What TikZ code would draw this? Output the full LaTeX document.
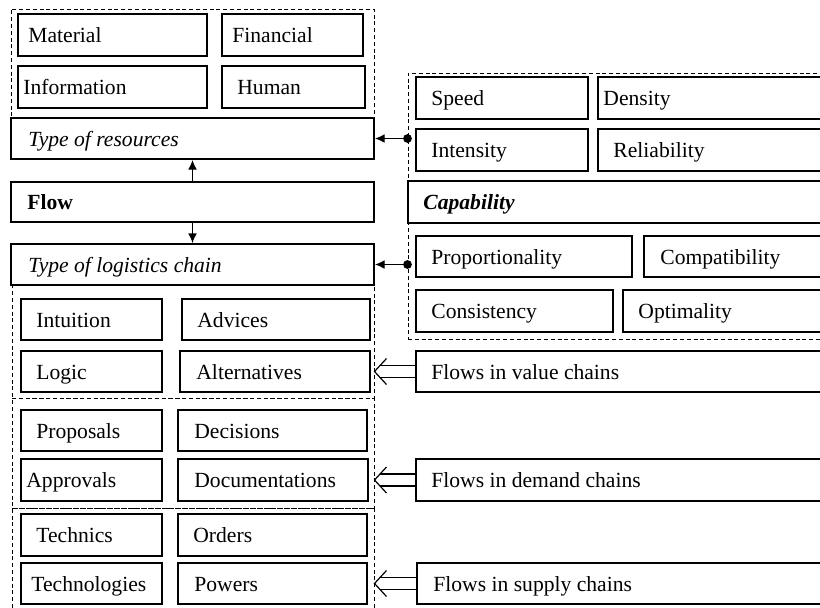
\documentclass[tikz,border=0pt]{standalone}
\usepackage{fontspec}
\setmainfont{Liberation Serif}
\usetikzlibrary{fit,calc,arrows.meta}

% a framed box from (x1,y1) to (x2,y2) with its label starting at x = tx
\newcommand\cell[7]{%
  \node[box, fit={(#2,#3) (#4,#5)}] (#1) {};
  \node[lbl] (#1-t) at (#6,{(#3+#5)/2+7.5}) {#7};}

% open double-line arrow from a source box to the right edge of a dashed group
\newcommand\harr[2]{%
  \coordinate (#1-tip) at (#2.east |- #1.west);
  \draw[harrow] ($(#1.west)+(0,-6)$) -- ($(#1-tip)+(5.5,-6)$);
  \draw[harrow] ($(#1.west)+(0,6)$) -- ($(#1-tip)+(5.5,6)$);
  \draw[harrow] ($(#1-tip)+(12,-13)$) -- (#1-tip) -- ($(#1-tip)+(12,13)$);}

\begin{document}
\begin{tikzpicture}[x=0.5pt,y=-0.5pt,
  box/.style={draw, line width=1pt, inner sep=0pt, fill=white},
  grp/.style={draw, line width=0.5pt, dash pattern=on 2pt off 1.4pt, inner sep=0pt},
  lbl/.style={anchor=base west, inner sep=0pt, font=\fontsize{10.8}{13}\selectfont},
  link/.style={line width=0.6pt, -{Latex[length=4.8pt,width=4.4pt]}},
  harrow/.style={line width=0.6pt, line join=miter},
]
\useasboundingbox (0,0) rectangle (820,607);
\clip (0,0) rectangle (820,607);

% dashed groups
\node[grp, fit={(11,9) (374,118)}] (grpT) {};
\node[grp, fit={(408,73) (840,339)}] (capgrp) {};
\node[grp, fit={(12,285) (374,398)}] (grpV) {};
\node[grp, fit={(12,398) (374,508)}] (grpD) {};
\node[grp, fit={(12,508) (374,640)}] (grpS) {};

% resources
\cell{mat}{18}{14}{207}{56}{28}{Material}
\cell{fin}{222}{14}{363}{56}{232}{Financial}
\cell{inf}{18}{66}{207}{108}{23}{Information}
\cell{hum}{222}{66}{365}{108}{237}{Human}
\cell{tres}{11}{118}{374}{159}{28}{\textit{Type of resources}}
\cell{flow}{11}{182}{374}{222}{27}{\textbf{Flow}}
\cell{tlog}{11}{244}{374}{285}{28}{\textit{Type of logistics chain}}

% capability
\cell{spd}{416}{77}{588}{119}{431}{Speed}
\cell{den}{598}{77}{840}{119}{603}{Density}
\cell{ints}{416}{129}{588}{171}{431}{Intensity}
\cell{rel}{598}{129}{840}{171}{613}{Reliability}
\cell{cap}{408}{181}{840}{223}{423}{\textbf{\textit{Capability}}}
\cell{prop}{416}{236}{632}{277}{431}{Proportionality}
\cell{compat}{644}{236}{840}{277}{660}{Compatibility}
\cell{cons}{416}{290}{613}{332}{431}{Consistency}
\cell{opt}{623}{290}{840}{332}{638}{Optimality}

% logistics chain contents
\cell{intu}{21}{299}{162}{340}{36}{Intuition}
\cell{adv}{182}{299}{370}{340}{197}{Advices}
\cell{logic}{21}{351}{162}{392}{36}{Logic}
\cell{alt}{180}{351}{370}{392}{196}{Alternatives}
\cell{prp}{21}{410}{162}{451}{36}{Proposals}
\cell{dec}{178}{410}{367}{451}{194}{Decisions}
\cell{appr}{21}{459}{162}{501}{26}{Approvals}
\cell{docs}{178}{459}{368}{501}{194}{Documentations}
\cell{tech}{21}{514}{162}{556}{36}{Technics}
\cell{ord}{178}{514}{367}{556}{193}{Orders}
\cell{techn}{21}{563}{162}{604}{31}{Technologies}
\cell{pow}{178}{563}{367}{604}{194}{Powers}

% chain flows
\cell{fv}{416}{351}{840}{392}{431}{Flows in value chains}
\cell{fd}{416}{459}{840}{501}{431}{Flows in demand chains}
\cell{fs}{417}{563}{840}{604}{433}{Flows in supply chains}

% connectors
\draw[link] (flow.north) -- (tres.south);
\draw[link] (flow.south) -- (tlog.north);
\coordinate (d1) at (capgrp.west |- tres.east);
\coordinate (d2) at (capgrp.west |- tlog.east);
\draw[link] (d1) -- (tres.east);
\draw[link] (d2) -- (tlog.east);
\fill (d1) circle (2.2pt);
\fill (d2) circle (2.2pt);
\harr{fv}{grpV}
\harr{fd}{grpD}
\harr{fs}{grpS}
\end{tikzpicture}
\end{document}
